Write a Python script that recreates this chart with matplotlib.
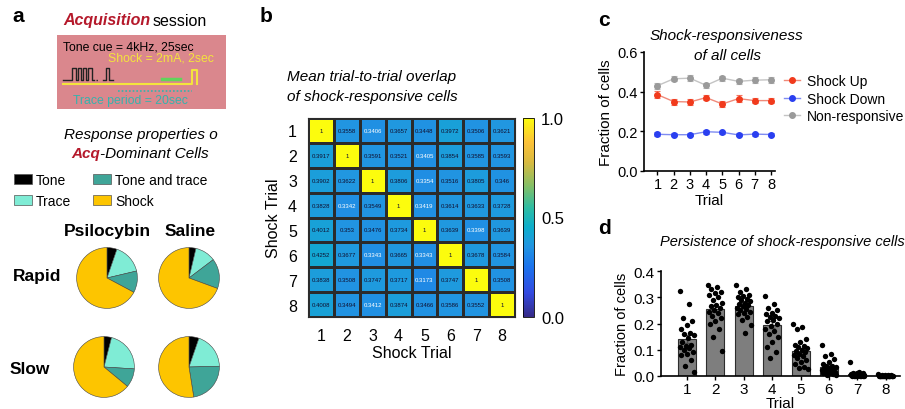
import numpy as np
import matplotlib.pyplot as plt
from matplotlib.colors import LinearSegmentedColormap
from matplotlib.patches import Rectangle

plt.rcParams['font.family'] = ['Liberation Sans', 'DejaVu Sans']

# ---------------- data ----------------
# panel a: response properties (fractions, clockwise from 12 o'clock)
pie_labels = ['Tone', 'Trace', 'Tone and trace', 'Shock']
psilo_rapid = [0.053, 0.160, 0.115, 0.672]
saline_rapid = [0.037, 0.110, 0.159, 0.694]
psilo_slow = [0.040, 0.220, 0.100, 0.640]
saline_slow = [0.053, 0.193, 0.229, 0.525]

# panel b: mean trial-to-trial overlap
trials = [1, 2, 3, 4, 5, 6, 7, 8]
overlap = np.array([
    [1, 0.3558, 0.3406, 0.3657, 0.3448, 0.3972, 0.3506, 0.3621],
    [0.3917, 1, 0.3591, 0.3521, 0.3405, 0.3854, 0.3585, 0.3593],
    [0.3902, 0.3622, 1, 0.3806, 0.3354, 0.3516, 0.3805, 0.346],
    [0.3828, 0.3342, 0.3549, 1, 0.3419, 0.3614, 0.3633, 0.3728],
    [0.4012, 0.353, 0.3476, 0.3734, 1, 0.3639, 0.3398, 0.3639],
    [0.4252, 0.3677, 0.3343, 0.3665, 0.3343, 1, 0.3678, 0.3584],
    [0.3838, 0.3508, 0.3747, 0.3717, 0.3173, 0.3747, 1, 0.3508],
    [0.4008, 0.3494, 0.3412, 0.3874, 0.3466, 0.3586, 0.3552, 1],
])

# panel c: shock responsiveness of all cells
shock_up = [0.385, 0.350, 0.348, 0.370, 0.338, 0.365, 0.355, 0.355]
shock_up_err = [0.016, 0.015, 0.014, 0.014, 0.015, 0.017, 0.013, 0.014]
shock_down = [0.185, 0.183, 0.183, 0.198, 0.195, 0.182, 0.186, 0.184]
shock_down_err = [0.010, 0.008, 0.008, 0.009, 0.007, 0.008, 0.008, 0.010]
non_resp = [0.430, 0.465, 0.468, 0.432, 0.468, 0.452, 0.458, 0.460]
non_resp_err = [0.015, 0.013, 0.014, 0.014, 0.013, 0.014, 0.014, 0.015]

# panel d: persistence of shock-responsive cells (one dot per animal/session)
persist_1 = [0.325, 0.275, 0.22, 0.21, 0.195, 0.18, 0.165, 0.16, 0.155, 0.145, 0.13,
             0.12, 0.115, 0.11, 0.105, 0.10, 0.09, 0.085, 0.08, 0.06, 0.04, 0.015]
persist_2 = [0.345, 0.34, 0.33, 0.32, 0.315, 0.31, 0.30, 0.29, 0.28, 0.27, 0.265,
             0.26, 0.25, 0.245, 0.24, 0.23, 0.22, 0.21, 0.20, 0.18, 0.15, 0.095]
persist_3 = [0.345, 0.33, 0.32, 0.31, 0.305, 0.30, 0.295, 0.29, 0.285, 0.28, 0.275, 0.27,
             0.265, 0.26, 0.255, 0.25, 0.245, 0.24, 0.235, 0.225, 0.215, 0.195, 0.165]
persist_4 = [0.305, 0.275, 0.26, 0.25, 0.24, 0.235, 0.23, 0.225, 0.22, 0.215, 0.21,
             0.20, 0.19, 0.18, 0.17, 0.16, 0.15, 0.13, 0.11, 0.09, 0.07]
persist_5 = [0.20, 0.185, 0.18, 0.14, 0.13, 0.12, 0.115, 0.11, 0.105, 0.10, 0.095,
             0.09, 0.085, 0.08, 0.075, 0.07, 0.06, 0.055, 0.045, 0.035, 0.03, 0.025]
persist_6 = [0.12, 0.085, 0.075, 0.065, 0.055, 0.045, 0.04, 0.038, 0.035, 0.032, 0.03,
             0.028, 0.025, 0.022, 0.02, 0.018, 0.015, 0.012, 0.01, 0.008, 0.005, 0.003]
persist_7 = [0.052, 0.015, 0.012, 0.01, 0.01, 0.008, 0.008, 0.006, 0.005, 0.005, 0.004,
             0.003, 0.002, 0.002, 0.001, 0, 0, 0, 0, 0, 0, 0]
persist_8 = [0.006, 0.004, 0.003, 0.002, 0.002, 0.001, 0.001, 0.001, 0, 0, 0,
             0, 0, 0, 0, 0, 0, 0, 0, 0, 0, 0]
persist = [persist_1, persist_2, persist_3, persist_4, persist_5, persist_6, persist_7, persist_8]

# ---------------- figure ----------------
W, H = 905, 410
fig = plt.figure(figsize=(W / 100, H / 100), dpi=100)


def px(x, y):
    # pixel position -> figure fraction
    return x / W, 1 - y / H


def box(x0, y0, x1, y1):
    return [x0 / W, 1 - y1 / H, (x1 - x0) / W, (y1 - y0) / H]


def label(x, y, s):
    fig.text(*px(x, y), s, fontsize=15, fontweight='bold', ha='left', va='center')


# ---------- panel a ----------
label(12, 16, 'a')
acq_red = '#b5192b'
fig.text(*px(150, 21), 'Acquisition', fontsize=11.5, fontweight='bold', style='italic',
         color=acq_red, ha='right', va='center')
fig.text(*px(153, 21), 'session', fontsize=11.5, ha='left', va='center')

sch = fig.add_axes(box(57, 36, 226, 110))
sch.set_facecolor('#da878d')
sch.set_xlim(0, 1)
sch.set_ylim(0, 1)
sch.set_xticks([])
sch.set_yticks([])
for s in sch.spines.values():
    s.set_visible(False)
sch.text(0.035, 0.85, 'Tone cue = 4kHz, 25sec', fontsize=8.8, ha='left', va='center')
sch.text(0.30, 0.69, 'Shock = 2mA, 2sec', fontsize=8.8, color='#f4e43c', ha='left', va='center')
sch.text(0.095, 0.12, 'Trace period = 20sec', fontsize=8.8, color='#35b3ad', ha='left', va='center')
# tone pulses
lo, hi = 0.39, 0.56
wx = [0.035, 0.09]
wy = [lo, lo]
for k in range(4):
    x0 = 0.09 + k * 0.032
    wx += [x0, x0 + 0.02, x0 + 0.02, x0 + 0.032]
    wy += [hi, hi, lo, lo]
sch.plot(wx, wy, color='#222222', lw=1)
sch.plot([0.23, 0.25], [lo, lo], ls=':', color='#222222', lw=1)
sch.plot([0.275, 0.29, 0.29, 0.31, 0.31, 0.33], [lo, lo, hi, hi, lo, lo], color='#222222', lw=1)
# shock line
sch.plot([0.035, 0.80, 0.80, 0.83, 0.83], [0.34, 0.34, 0.53, 0.53, 0.34], color='#f4e43c', lw=1.5)
sch.plot([0.62, 0.73], [0.41, 0.41], color='#62d45a', lw=2.5)
sch.plot([0.36, 0.80], [0.245, 0.245], color='#35b3ad', lw=1.2, ls=(0, (1, 1.2)))

fig.text(*px(141, 135), 'Response properties o', fontsize=11, style='italic', ha='center', va='center')
fig.text(*px(100, 154), 'Acq', fontsize=11, style='italic', fontweight='bold', color=acq_red,
         ha='right', va='center')
fig.text(*px(100, 154), '-Dominant Cells', fontsize=11, style='italic', ha='left', va='center')

pie_colors = ['#000000', '#7fecd5', '#3fa598', '#fdc500']
handles = [Rectangle((0, 0), 1, 1, facecolor=c, edgecolor='#555555', lw=0.5) for c in pie_colors]
fig.legend(handles, pie_labels, ncol=2, loc='upper left', bbox_to_anchor=px(8, 168),
           frameon=False, fontsize=10, handlelength=1.3, handleheight=0.7,
           handletextpad=0.3, columnspacing=1.6, labelspacing=0.55, borderaxespad=0)

fig.text(*px(107, 232), 'Psilocybin', fontsize=12.5, fontweight='bold', ha='center', va='center')
fig.text(*px(190, 232), 'Saline', fontsize=12.5, fontweight='bold', ha='center', va='center')
fig.text(*px(37, 276), 'Rapid', fontsize=12.5, fontweight='bold', ha='center', va='center')
fig.text(*px(30, 370), 'Slow', fontsize=12.5, fontweight='bold', ha='center', va='center')

pie_sets = [(psilo_rapid, 107, 279), (saline_rapid, 189, 279),
            (psilo_slow, 104, 368), (saline_slow, 189, 368)]
r = 38
for vals, cx, cy in pie_sets:
    pax = fig.add_axes(box(cx - r, cy - r, cx + r, cy + r))
    pax.pie(vals, colors=pie_colors, startangle=90, counterclock=False,
            wedgeprops={'edgecolor': '#444444', 'linewidth': 0.4})
    pax.set_aspect('equal')

# ---------- panel b ----------
label(260, 16, 'b')
fig.text(*px(372, 77), 'Mean trial-to-trial overlap', fontsize=11, style='italic', ha='center', va='center')
fig.text(*px(372, 97), 'of shock-responsive cells', fontsize=11, style='italic', ha='center', va='center')

parula = LinearSegmentedColormap.from_list('parula_like', [
    (0.00, (0.208, 0.166, 0.529)),
    (0.12, (0.200, 0.290, 0.880)),
    (0.25, (0.110, 0.450, 0.930)),
    (0.36, (0.130, 0.590, 0.880)),
    (0.45, (0.050, 0.680, 0.800)),
    (0.55, (0.180, 0.740, 0.640)),
    (0.66, (0.520, 0.750, 0.400)),
    (0.78, (0.850, 0.730, 0.250)),
    (0.88, (0.990, 0.760, 0.220)),
    (1.00, (0.990, 0.990, 0.050)),
])

hax = fig.add_axes(box(308, 119, 515, 318))
mesh = hax.pcolormesh(np.arange(0.5, 9.5), np.arange(0.5, 9.5), overlap, cmap=parula,
                      vmin=0, vmax=1, edgecolors='#2b2b2b', linewidth=1.0)
hax.set_xlim(0.5, 8.5)
hax.set_ylim(8.5, 0.5)
for i in range(8):
    for j in range(8):
        v = overlap[i, j]
        txt = '1' if v == 1 else ('%.4f' % v).rstrip('0')
        col = 'white' if v < 0.342 else '#101030'
        hax.text(j + 1, i + 1, txt, fontsize=4.3, ha='center', va='center', color=col)
hax.set_xticks(trials)
hax.set_yticks(trials)
hax.tick_params(length=0, labelsize=11.5, pad=8)
hax.set_xlabel('Shock Trial', fontsize=11.5, labelpad=1)
hax.set_ylabel('Shock Trial', fontsize=11.5, labelpad=5)
for s in hax.spines.values():
    s.set_color('#2b2b2b')

cax = fig.add_axes(box(523, 119, 534, 318))
cb = fig.colorbar(mesh, cax=cax, ticks=[0, 0.5, 1.0])
cb.ax.set_yticklabels(['0.0', '0.5', '1.0'])
cb.ax.tick_params(length=0, labelsize=12, pad=5)
cb.outline.set_linewidth(0.6)

# ---------- panel c ----------
label(598, 20, 'c')
fig.text(*px(726, 36), 'Shock-responsiveness', fontsize=11, style='italic', ha='center', va='center')
fig.text(*px(727, 56), 'of all cells', fontsize=11, style='italic', ha='center', va='center')

cax2 = fig.add_axes(box(644, 53, 775, 172))
series = [(shock_up, shock_up_err, '#f13a1c', '#f08a7a', 'Shock Up'),
          (shock_down, shock_down_err, '#2a3ff0', '#7f8cf2', 'Shock Down'),
          (non_resp, non_resp_err, '#9a9a9a', '#c4c4c4', 'Non-responsive')]
for vals, err, col, lcol, name in series:
    cax2.plot(trials, vals, color=lcol, lw=1, marker='o', ms=4,
              mfc=col, mec=col, label=name, zorder=2)
    cax2.errorbar(trials, vals, yerr=err, fmt='none', ecolor=col, elinewidth=0.8,
                  capsize=2.5, capthick=0.8, alpha=0.7, zorder=3)
cax2.set_xlim(0.17, 8.25)
cax2.set_ylim(0, 0.6)
cax2.set_xticks(trials)
cax2.set_yticks([0.0, 0.2, 0.4, 0.6])
cax2.set_yticklabels(['0.0', '0.2', '0.4', '0.6'])
cax2.tick_params(labelsize=10.5, length=3, width=1, pad=1.5)
cax2.set_xlabel('Trial', fontsize=11, labelpad=1)
cax2.set_ylabel('Fraction of cells', fontsize=11, labelpad=3)
for s in ['top', 'right']:
    cax2.spines[s].set_visible(False)
for s in ['left', 'bottom']:
    cax2.spines[s].set_linewidth(1.2)
cax2.legend(loc='upper left', bbox_to_anchor=(1.03, 0.86), frameon=False, fontsize=10,
            handlelength=1.1, handletextpad=0.5, labelspacing=0.25, borderaxespad=0)

# ---------- panel d ----------
label(598, 228, 'd')
fig.text(*px(782, 242), 'Persistence of shock-responsive cells', fontsize=10.5, style='italic',
         ha='center', va='center')

dax = fig.add_axes(box(661, 272, 900, 377))
means = [np.mean(p) for p in persist]
sems = [np.std(p, ddof=1) / np.sqrt(len(p)) for p in persist]
dax.bar(trials, means, width=0.64, color='#7e7e7e', edgecolor='#2e2e2e', linewidth=0.8, zorder=1)
dax.errorbar(trials, means, yerr=sems, fmt='none', ecolor='#4a4a4a', elinewidth=1, capsize=2.5, zorder=2)
for t, p in zip(trials, persist):
    offs = np.array([((k * 0.618) % 1 - 0.5) * 0.52 for k in range(len(p))])
    dax.scatter(t + offs, p, s=15, color='black', zorder=3, linewidths=0, clip_on=False)
dax.set_xlim(0.085, 8.5)
dax.set_ylim(0, 0.4)
dax.set_xticks(trials)
dax.set_yticks([0.0, 0.1, 0.2, 0.3, 0.4])
dax.set_yticklabels(['0.0', '0.1', '0.2', '0.3', '0.4'])
dax.tick_params(labelsize=11, length=3, width=1, pad=1.5)
dax.set_xlabel('Trial', fontsize=11, labelpad=0)
dax.set_ylabel('Fraction of cells', fontsize=10.5, labelpad=3)
for s in ['top', 'right']:
    dax.spines[s].set_visible(False)
for s in ['left', 'bottom']:
    dax.spines[s].set_linewidth(1.2)

fig.savefig('out.png', dpi=100)
